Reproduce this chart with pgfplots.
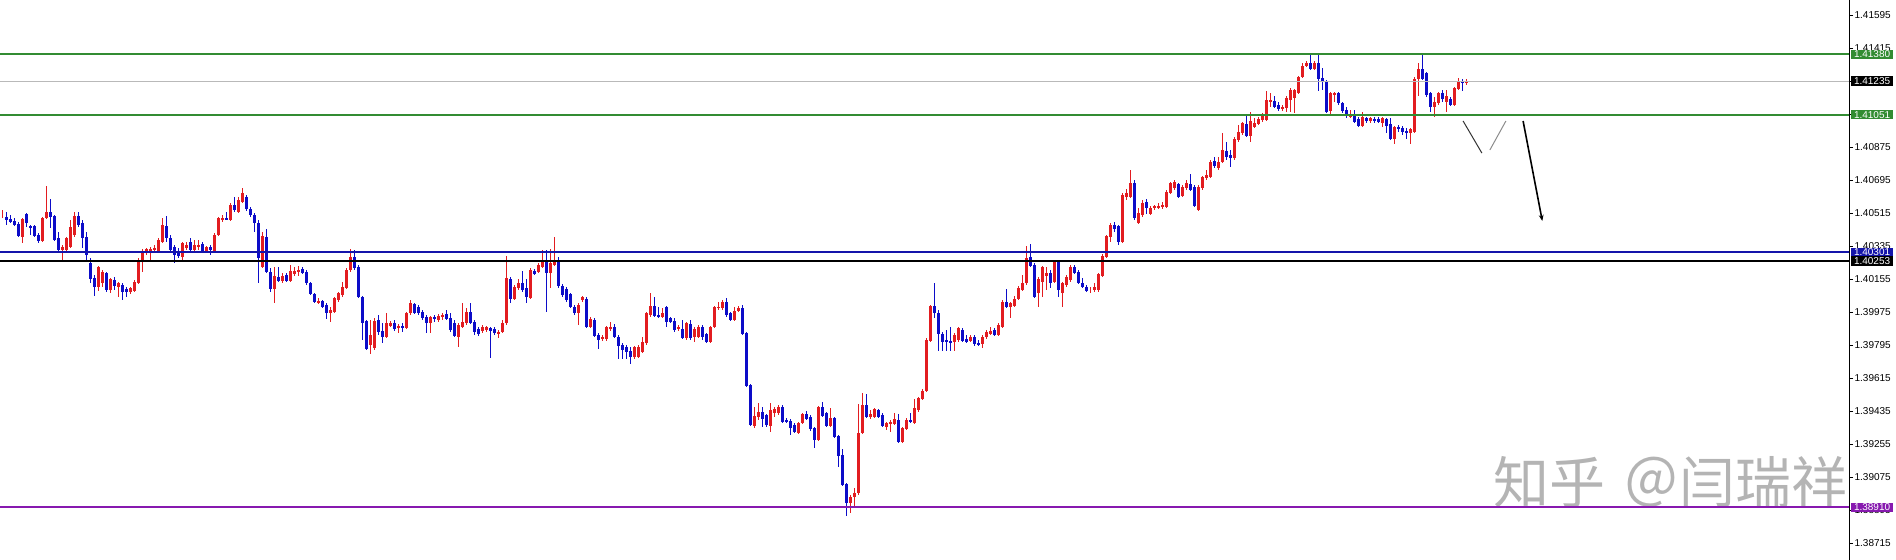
\documentclass[border=0pt]{standalone}
\usepackage{pgfplots}
\pgfplotsset{compat=1.18}
\usepackage{pgfplotstable}
\usetikzlibrary{arrows.meta}
\usepackage{fontspec}
\setmainfont{Liberation Sans}
\newfontfamily\cjk{Noto Sans CJK SC}

\definecolor{bullred}{RGB}{226,28,32}
\definecolor{bearblue}{RGB}{12,12,200}
\definecolor{lvlgreen}{RGB}{50,140,50}
\definecolor{lvlblue}{RGB}{20,20,170}
\definecolor{lvlpurple}{RGB}{135,25,175}
\definecolor{wmgray}{RGB}{180,180,180}

\pgfplotsset{
  candle/.style={draw=none, mark=none, forget plot, unbounded coords=discard,
    error bars/.cd, y dir=both, y explicit, error mark=none,
    error bar style={draw=#1, solid}},
}

% one row per bar: open high low close
\pgfplotstableread{
o h l c
1.40509 1.40531 1.40487 1.40509
1.40493 1.40520 1.40450 1.40477
1.40482 1.40504 1.40461 1.40466
1.40472 1.40487 1.40444 1.40450
1.40455 1.40466 1.40384 1.40389
1.40384 1.40487 1.40352 1.40482
1.40509 1.40515 1.40439 1.40461
1.40444 1.40450 1.40395 1.40439
1.40444 1.40450 1.40384 1.40389
1.40395 1.40406 1.40352 1.40363
1.40363 1.40493 1.40357 1.40487
1.40487 1.40662 1.40482 1.40520
1.40520 1.40592 1.40433 1.40493
1.40498 1.40504 1.40363 1.40368
1.40378 1.40411 1.40302 1.40313
1.40313 1.40341 1.40259 1.40330
1.40313 1.40384 1.40302 1.40378
1.40330 1.40477 1.40324 1.40439
1.40395 1.40520 1.40384 1.40498
1.40498 1.40520 1.40439 1.40450
1.40461 1.40477 1.40324 1.40378
1.40384 1.40411 1.40259 1.40286
1.40243 1.40270 1.40134 1.40155
1.40160 1.40177 1.40062 1.40111
1.40111 1.40226 1.40090 1.40221
1.40134 1.40204 1.40111 1.40193
1.40188 1.40193 1.40084 1.40095
1.40095 1.40160 1.40079 1.40155
1.40150 1.40166 1.40095 1.40117
1.40111 1.40139 1.40057 1.40134
1.40123 1.40134 1.40041 1.40084
1.40101 1.40111 1.40057 1.40084
1.40084 1.40111 1.40073 1.40106
1.40090 1.40150 1.40084 1.40139
1.40134 1.40270 1.40128 1.40259
1.40259 1.40319 1.40193 1.40308
1.40297 1.40324 1.40286 1.40319
1.40313 1.40330 1.40259 1.40319
1.40319 1.40341 1.40302 1.40324
1.40308 1.40378 1.40302 1.40368
1.40357 1.40487 1.40352 1.40450
1.40444 1.40498 1.40357 1.40378
1.40378 1.40395 1.40302 1.40313
1.40330 1.40341 1.40243 1.40286
1.40297 1.40324 1.40270 1.40280
1.40275 1.40357 1.40259 1.40352
1.40324 1.40357 1.40313 1.40341
1.40357 1.40378 1.40302 1.40313
1.40313 1.40368 1.40302 1.40341
1.40330 1.40368 1.40313 1.40341
1.40346 1.40357 1.40297 1.40302
1.40308 1.40335 1.40302 1.40330
1.40330 1.40341 1.40286 1.40313
1.40308 1.40406 1.40302 1.40395
1.40395 1.40493 1.40389 1.40487
1.40477 1.40504 1.40466 1.40487
1.40487 1.40520 1.40477 1.40482
1.40477 1.40570 1.40472 1.40559
1.40559 1.40603 1.40520 1.40531
1.40520 1.40603 1.40515 1.40586
1.40575 1.40651 1.40570 1.40625
1.40603 1.40614 1.40526 1.40537
1.40537 1.40548 1.40493 1.40504
1.40504 1.40515 1.40411 1.40461
1.40461 1.40477 1.40134 1.40270
1.40221 1.40411 1.40215 1.40389
1.40384 1.40428 1.40188 1.40193
1.40193 1.40215 1.40084 1.40101
1.40101 1.40221 1.40025 1.40172
1.40166 1.40221 1.40139 1.40145
1.40145 1.40188 1.40134 1.40172
1.40177 1.40188 1.40139 1.40145
1.40145 1.40232 1.40139 1.40199
1.40182 1.40221 1.40172 1.40199
1.40199 1.40226 1.40172 1.40204
1.40210 1.40221 1.40182 1.40188
1.40193 1.40204 1.40123 1.40134
1.40134 1.40139 1.40068 1.40073
1.40073 1.40079 1.40025 1.40030
1.40030 1.40052 1.40019 1.40035
1.40035 1.40041 1.39997 1.40003
1.40014 1.40025 1.39937 1.39970
1.39970 1.40003 1.39920 1.39986
1.39975 1.40057 1.39970 1.40052
1.40041 1.40084 1.40030 1.40079
1.40068 1.40139 1.40057 1.40111
1.40106 1.40215 1.40101 1.40204
1.40204 1.40319 1.40193 1.40275
1.40275 1.40313 1.40204 1.40215
1.40221 1.40232 1.40052 1.40057
1.40057 1.40062 1.39822 1.39915
1.39926 1.39931 1.39768 1.39773
1.39795 1.39931 1.39746 1.39850
1.39778 1.39942 1.39768 1.39926
1.39931 1.39959 1.39850 1.39866
1.39872 1.39915 1.39806 1.39839
1.39839 1.39970 1.39833 1.39915
1.39899 1.39926 1.39893 1.39915
1.39915 1.39931 1.39872 1.39882
1.39888 1.39910 1.39861 1.39899
1.39899 1.39915 1.39866 1.39888
1.39888 1.39975 1.39882 1.39970
1.39970 1.40041 1.39959 1.40025
1.40019 1.40025 1.39964 1.39970
1.40003 1.40014 1.39959 1.39970
1.39975 1.39986 1.39931 1.39942
1.39948 1.39959 1.39861 1.39915
1.39915 1.39953 1.39861 1.39948
1.39948 1.39959 1.39920 1.39937
1.39931 1.39964 1.39920 1.39953
1.39948 1.39970 1.39931 1.39959
1.39964 1.39986 1.39931 1.39937
1.39942 1.39970 1.39866 1.39877
1.39915 1.39931 1.39839 1.39844
1.39839 1.39915 1.39784 1.39904
1.39893 1.40025 1.39888 1.39920
1.39915 1.39997 1.39904 1.39975
1.39975 1.40025 1.39910 1.39915
1.39920 1.39931 1.39850 1.39866
1.39882 1.39893 1.39844 1.39855
1.39872 1.39904 1.39861 1.39893
1.39877 1.39899 1.39866 1.39893
1.39888 1.39893 1.39724 1.39872
1.39882 1.39893 1.39850 1.39861
1.39861 1.39877 1.39833 1.39866
1.39866 1.39931 1.39861 1.39915
1.39915 1.40280 1.39904 1.40160
1.40155 1.40166 1.40025 1.40046
1.40046 1.40123 1.40041 1.40111
1.40106 1.40155 1.40095 1.40134
1.40134 1.40199 1.40084 1.40095
1.40106 1.40155 1.40025 1.40057
1.40052 1.40215 1.40046 1.40204
1.40199 1.40210 1.40177 1.40182
1.40193 1.40243 1.40188 1.40232
1.40221 1.40313 1.40215 1.40253
1.40253 1.40313 1.39975 1.40188
1.40188 1.40319 1.40106 1.40243
1.40232 1.40384 1.40226 1.40259
1.40259 1.40275 1.40106 1.40117
1.40117 1.40128 1.40057 1.40068
1.40101 1.40111 1.40030 1.40041
1.40073 1.40079 1.39997 1.40003
1.40003 1.40014 1.39959 1.39970
1.39970 1.40025 1.39904 1.40014
1.40041 1.40062 1.40030 1.40057
1.40046 1.40057 1.39888 1.39893
1.39893 1.39948 1.39888 1.39937
1.39931 1.39942 1.39839 1.39844
1.39850 1.39861 1.39773 1.39822
1.39828 1.39850 1.39817 1.39839
1.39828 1.39899 1.39817 1.39893
1.39882 1.39920 1.39872 1.39893
1.39893 1.39910 1.39833 1.39839
1.39839 1.39850 1.39719 1.39790
1.39795 1.39806 1.39719 1.39768
1.39784 1.39795 1.39719 1.39757
1.39763 1.39784 1.39691 1.39730
1.39730 1.39790 1.39719 1.39784
1.39730 1.39795 1.39724 1.39784
1.39757 1.39839 1.39752 1.39811
1.39806 1.39975 1.39795 1.39970
1.39959 1.40079 1.39948 1.40008
1.40008 1.40057 1.39948 1.39953
1.39959 1.40003 1.39942 1.39948
1.39948 1.39997 1.39942 1.39970
1.40003 1.40008 1.39893 1.39920
1.39942 1.39948 1.39915 1.39920
1.39926 1.39942 1.39866 1.39877
1.39882 1.39904 1.39872 1.39893
1.39882 1.39931 1.39828 1.39833
1.39833 1.39920 1.39822 1.39915
1.39910 1.39931 1.39822 1.39833
1.39839 1.39893 1.39811 1.39882
1.39839 1.39904 1.39833 1.39893
1.39893 1.39904 1.39822 1.39839
1.39855 1.39861 1.39806 1.39811
1.39811 1.39899 1.39806 1.39893
1.39893 1.40008 1.39888 1.40003
1.39997 1.40030 1.39986 1.40003
1.39997 1.40041 1.39986 1.40030
1.40030 1.40052 1.39948 1.39959
1.39970 1.39975 1.39926 1.39931
1.39931 1.40003 1.39926 1.39981
1.39981 1.40008 1.39975 1.39997
1.39997 1.40014 1.39850 1.39855
1.39861 1.39866 1.39566 1.39572
1.39577 1.39582 1.39353 1.39359
1.39353 1.39457 1.39342 1.39408
1.39402 1.39479 1.39386 1.39430
1.39430 1.39457 1.39348 1.39391
1.39413 1.39419 1.39348 1.39359
1.39353 1.39479 1.39320 1.39441
1.39424 1.39457 1.39402 1.39446
1.39424 1.39468 1.39413 1.39457
1.39457 1.39468 1.39370 1.39375
1.39386 1.39397 1.39370 1.39375
1.39381 1.39391 1.39304 1.39342
1.39359 1.39370 1.39315 1.39320
1.39315 1.39375 1.39309 1.39370
1.39370 1.39424 1.39364 1.39419
1.39419 1.39435 1.39386 1.39391
1.39402 1.39413 1.39326 1.39337
1.39342 1.39348 1.39233 1.39277
1.39277 1.39462 1.39272 1.39457
1.39457 1.39484 1.39402 1.39408
1.39424 1.39430 1.39348 1.39353
1.39353 1.39452 1.39348 1.39397
1.39397 1.39402 1.39288 1.39293
1.39299 1.39304 1.39129 1.39189
1.39195 1.39228 1.39026 1.39032
1.39037 1.39043 1.38862 1.38934
1.38934 1.38977 1.38879 1.38966
1.38966 1.39015 1.38912 1.38988
1.38988 1.39473 1.38977 1.39315
1.39315 1.39534 1.39309 1.39468
1.39468 1.39528 1.39397 1.39402
1.39402 1.39441 1.39391 1.39419
1.39402 1.39452 1.39397 1.39446
1.39441 1.39446 1.39397 1.39402
1.39413 1.39424 1.39348 1.39353
1.39348 1.39375 1.39331 1.39370
1.39364 1.39386 1.39320 1.39375
1.39364 1.39424 1.39359 1.39391
1.39386 1.39419 1.39261 1.39266
1.39266 1.39348 1.39261 1.39342
1.39337 1.39397 1.39331 1.39386
1.39386 1.39424 1.39370 1.39375
1.39370 1.39501 1.39364 1.39452
1.39441 1.39512 1.39430 1.39506
1.39501 1.39555 1.39495 1.39544
1.39544 1.39833 1.39539 1.39822
1.39817 1.40014 1.39811 1.40008
1.40008 1.40134 1.39942 1.39970
1.39970 1.39986 1.39763 1.39855
1.39855 1.39866 1.39763 1.39811
1.39822 1.39877 1.39763 1.39811
1.39817 1.39893 1.39763 1.39811
1.39811 1.39861 1.39763 1.39850
1.39822 1.39893 1.39811 1.39888
1.39877 1.39888 1.39811 1.39817
1.39828 1.39850 1.39806 1.39811
1.39817 1.39850 1.39811 1.39839
1.39839 1.39850 1.39790 1.39800
1.39806 1.39822 1.39790 1.39800
1.39800 1.39850 1.39779 1.39839
1.39839 1.39877 1.39828 1.39866
1.39855 1.39893 1.39850 1.39872
1.39877 1.39888 1.39844 1.39850
1.39850 1.39915 1.39844 1.39904
1.39893 1.40041 1.39888 1.40030
1.40030 1.40101 1.39997 1.40003
1.40003 1.40030 1.39942 1.40025
1.40008 1.40062 1.40003 1.40046
1.40046 1.40117 1.40041 1.40106
1.40095 1.40177 1.40090 1.40134
1.40134 1.40335 1.40123 1.40270
1.40275 1.40346 1.40221 1.40226
1.40232 1.40243 1.40052 1.40057
1.40079 1.40166 1.40003 1.40155
1.40139 1.40226 1.40057 1.40221
1.40172 1.40221 1.40095 1.40188
1.40188 1.40204 1.40106 1.40134
1.40139 1.40259 1.40134 1.40253
1.40253 1.40259 1.40057 1.40095
1.40079 1.40139 1.40003 1.40134
1.40123 1.40177 1.40111 1.40166
1.40150 1.40232 1.40139 1.40221
1.40221 1.40232 1.40182 1.40188
1.40193 1.40204 1.40128 1.40134
1.40134 1.40160 1.40106 1.40111
1.40111 1.40123 1.40084 1.40090
1.40095 1.40111 1.40079 1.40095
1.40095 1.40134 1.40084 1.40111
1.40095 1.40188 1.40084 1.40182
1.40172 1.40291 1.40166 1.40280
1.40275 1.40395 1.40270 1.40389
1.40384 1.40461 1.40357 1.40450
1.40450 1.40466 1.40411 1.40428
1.40444 1.40450 1.40341 1.40357
1.40357 1.40625 1.40352 1.40614
1.40603 1.40646 1.40586 1.40625
1.40603 1.40750 1.40597 1.40679
1.40679 1.40695 1.40477 1.40487
1.40461 1.40542 1.40455 1.40515
1.40504 1.40586 1.40493 1.40570
1.40575 1.40592 1.40509 1.40542
1.40509 1.40553 1.40504 1.40542
1.40542 1.40559 1.40531 1.40553
1.40548 1.40570 1.40537 1.40553
1.40548 1.40575 1.40537 1.40559
1.40548 1.40641 1.40542 1.40630
1.40625 1.40684 1.40619 1.40679
1.40651 1.40695 1.40641 1.40684
1.40673 1.40679 1.40597 1.40603
1.40608 1.40668 1.40603 1.40657
1.40651 1.40695 1.40641 1.40679
1.40673 1.40728 1.40635 1.40641
1.40657 1.40668 1.40548 1.40553
1.40531 1.40668 1.40526 1.40657
1.40651 1.40717 1.40641 1.40712
1.40706 1.40750 1.40695 1.40722
1.40712 1.40804 1.40706 1.40793
1.40799 1.40820 1.40760 1.40771
1.40760 1.40820 1.40750 1.40793
1.40793 1.40951 1.40788 1.40859
1.40853 1.40902 1.40804 1.40820
1.40832 1.40859 1.40766 1.40815
1.40815 1.40929 1.40804 1.40918
1.40913 1.40995 1.40902 1.40957
1.40951 1.41011 1.40940 1.41006
1.41000 1.41044 1.40929 1.40935
1.40935 1.41066 1.40902 1.41017
1.40984 1.41033 1.40979 1.41006
1.41000 1.41039 1.40995 1.41028
1.41022 1.41061 1.41011 1.41050
1.41022 1.41181 1.41017 1.41131
1.41120 1.41170 1.41093 1.41131
1.41126 1.41153 1.41088 1.41093
1.41104 1.41120 1.41071 1.41082
1.41082 1.41104 1.41071 1.41093
1.41088 1.41153 1.41066 1.41142
1.41131 1.41197 1.41066 1.41186
1.41142 1.41192 1.41061 1.41186
1.41170 1.41263 1.41164 1.41257
1.41257 1.41333 1.41252 1.41317
1.41317 1.41344 1.41312 1.41333
1.41333 1.41377 1.41295 1.41301
1.41301 1.41344 1.41295 1.41333
1.41333 1.41388 1.41181 1.41246
1.41252 1.41306 1.41186 1.41230
1.41230 1.41241 1.41061 1.41066
1.41071 1.41175 1.41044 1.41170
1.41159 1.41175 1.41120 1.41170
1.41170 1.41175 1.41104 1.41115
1.41115 1.41120 1.41061 1.41071
1.41077 1.41093 1.41033 1.41050
1.41039 1.41077 1.41033 1.41055
1.41044 1.41077 1.41006 1.41011
1.41028 1.41039 1.40984 1.40990
1.40990 1.41066 1.40984 1.41039
1.41033 1.41039 1.41006 1.41017
1.41017 1.41039 1.41006 1.41033
1.41028 1.41039 1.41006 1.41017
1.41028 1.41039 1.41006 1.41011
1.41006 1.41039 1.40984 1.41033
1.41028 1.41033 1.40951 1.40990
1.41000 1.41033 1.40913 1.40918
1.40918 1.40990 1.40891 1.40984
1.40984 1.40995 1.40957 1.40973
1.40979 1.40990 1.40940 1.40957
1.40962 1.40979 1.40918 1.40951
1.40951 1.40979 1.40891 1.40973
1.40957 1.41257 1.40951 1.41246
1.41246 1.41333 1.41153 1.41301
1.41301 1.41388 1.41241 1.41246
1.41279 1.41284 1.41148 1.41159
1.41170 1.41175 1.41066 1.41093
1.41093 1.41148 1.41039 1.41120
1.41115 1.41175 1.41104 1.41170
1.41170 1.41186 1.41120 1.41137
1.41120 1.41186 1.41066 1.41153
1.41137 1.41148 1.41099 1.41104
1.41104 1.41203 1.41099 1.41197
1.41192 1.41252 1.41186 1.41230
1.41235 1.41246 1.41181 1.41224
1.41224 1.41246 1.41214 1.41235
}\candles

\begin{document}
\begin{tikzpicture}
\begin{axis}[
  scale only axis, width=924.5pt, height=280pt,
  xmin=-0.6675, xmax=461.58,
  ymin=1.386225, ymax=1.41677,
  axis x line=none,
  axis y line*=right,
  axis line style={-, black, line width=0.5pt},
  scaled y ticks=false,
  ytick={1.38715,1.38895,1.39075,1.39255,1.39435,1.39615,1.39795,1.39975,1.40155,1.40335,1.40515,1.40695,1.40875,1.41055,1.41235,1.41415,1.41595},
  yticklabels={1.38715,1.38895,1.39075,1.39255,1.39435,1.39615,1.39795,1.39975,1.40155,1.40335,1.40515,1.40695,1.40875,1.41055,1.41235,1.41415,1.41595},
  tick align=outside,
  major tick length=2pt,
  tick style={black, line width=0.5pt},
  yticklabel style={font=\fontsize{5}{6}\selectfont, inner sep=0pt, xshift=0.6pt},
]
% watermark
\node[anchor=west, text=wmgray, inner sep=0pt, font=\cjk\fontsize{28}{30}\selectfont]
  at (axis cs:372.6,1.39048) {知乎\hspace{0.32em}＠闫瑞祥};

% wicks (rising bars red, falling bars blue)
\addplot[candle=bullred, error bar style={line width=0.5pt}]
  table[x expr=\coordindex,
        y expr={\thisrow{c}>=\thisrow{o} ? (\thisrow{h}+\thisrow{l})/2 : nan},
        y error expr=(\thisrow{h}-\thisrow{l})/2] {\candles};
\addplot[candle=bearblue, error bar style={line width=0.5pt}]
  table[x expr=\coordindex,
        y expr={\thisrow{c}<\thisrow{o} ? (\thisrow{h}+\thisrow{l})/2 : nan},
        y error expr=(\thisrow{h}-\thisrow{l})/2] {\candles};
% bodies
\addplot[candle=bullred, error bar style={line width=1.5pt}]
  table[x expr=\coordindex,
        y expr={\thisrow{c}>=\thisrow{o} ? (\thisrow{o}+\thisrow{c})/2 : nan},
        y error expr=abs(\thisrow{c}-\thisrow{o})/2] {\candles};
\addplot[candle=bearblue, error bar style={line width=1.5pt}]
  table[x expr=\coordindex,
        y expr={\thisrow{c}<\thisrow{o} ? (\thisrow{o}+\thisrow{c})/2 : nan},
        y error expr=abs(\thisrow{c}-\thisrow{o})/2] {\candles};

% horizontal levels
\addplot[lvlgreen, line width=1pt, forget plot] coordinates {(-0.6675,1.41380) (461.58,1.41380)};
\addplot[gray!55, line width=0.5pt, forget plot] coordinates {(-0.6675,1.41235) (461.58,1.41235)};
\addplot[lvlgreen, line width=1pt, forget plot] coordinates {(-0.6675,1.41051) (461.58,1.41051)};
\addplot[lvlblue, line width=1pt, forget plot] coordinates {(-0.6675,1.40301) (461.58,1.40301)};
\addplot[black, line width=1pt, forget plot] coordinates {(-0.6675,1.40253) (461.58,1.40253)};
\addplot[lvlpurple, line width=1pt, forget plot] coordinates {(-0.6675,1.38910) (461.58,1.38910)};

% hand-drawn projection
\draw[black!80, line width=0.5pt] (axis cs:365.1,1.41017) -- (axis cs:369.8,1.40842);
\draw[black!45, line width=0.5pt] (axis cs:375.8,1.41017) -- (axis cs:371.8,1.40859);
\draw[black, line width=0.8pt, -{Stealth[length=3pt,width=2.4pt]}] (axis cs:380.1,1.41017) -- (axis cs:384.9,1.40472);

\coordinate (R1) at (axis cs:461.58,1.41380);
\coordinate (R2) at (axis cs:461.58,1.41235);
\coordinate (R3) at (axis cs:461.58,1.41051);
\coordinate (R4) at (axis cs:461.58,1.40301);
\coordinate (R5) at (axis cs:461.58,1.40253);
\coordinate (R6) at (axis cs:461.58,1.38910);
\end{axis}

\tikzset{lab/.style={anchor=west, text=white, font=\fontsize{5}{6}\selectfont,
  inner xsep=1.4pt, inner ysep=0.3pt, minimum height=4.6pt}}
\node[lab, fill=lvlgreen] at ([xshift=0.9pt]R1) {1.41380};
\node[lab, fill=black] at ([xshift=0.9pt]R2) {1.41235};
\node[lab, fill=lvlgreen] at ([xshift=0.9pt]R3) {1.41051};
\node[lab, fill=lvlblue] at ([xshift=0.9pt]R4) {1.40301};
\node[lab, fill=black] at ([xshift=0.9pt]R5) {1.40253};
\node[lab, fill=lvlpurple] at ([xshift=0.9pt]R6) {1.38910};

\pgfresetboundingbox
\path (0,0) rectangle (948pt,280pt);
\end{tikzpicture}
\end{document}
